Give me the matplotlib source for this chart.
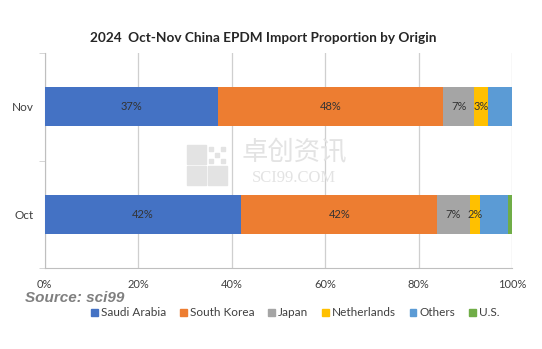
import matplotlib.pyplot as plt
from matplotlib.patches import Patch, Rectangle

# data
months = ["Nov", "Oct"]
origins = ["Saudi Arabia", "South Korea", "Japan", "Netherlands", "Others", "U.S."]
saudi = [37.2, 42.1]
korea = [48.1, 41.9]
japan = [6.6, 7.0]
netherlands = [3.0, 2.2]
others = [5.1, 5.9]
us = [0.0, 0.9]
colors = ["#4472C4", "#ED7D31", "#A5A5A5", "#FFC000", "#5B9BD5", "#70AD47"]
labelled = [True, True, True, True, False, False]

plt.rcParams['font.family'] = ['Lato', 'DejaVu Sans']

fig = plt.figure(figsize=(5.42, 3.49), dpi=100)
ax = fig.add_axes([44.5 / 542, 1 - 268 / 349, (512 - 44.5) / 542, (268 - 53) / 349])

ypos = [0, 1]
left = [0, 0]
for vals, c, lab in zip([saudi, korea, japan, netherlands, others, us], colors, labelled):
    ax.barh(ypos, vals, left=left, height=0.36, color=c, zorder=3)
    if lab:
        for y, v, l in zip(ypos, vals, left):
            if v >= 1.5:
                ax.text(l + v / 2, y, f"{round(v)}%", ha="center", va="center",
                        fontsize=8, color="#333333", zorder=4)
    left = [a + b for a, b in zip(left, vals)]

ax.set_xlim(0, 100)
ax.set_ylim(1.5, -0.5)
ax.set_xticks([0, 20, 40, 60, 80, 100])
ax.set_xticklabels(["0%", "20%", "40%", "60%", "80%", "100%"], fontsize=8, color="#404040")
ax.set_yticks(ypos)
ax.set_yticklabels(months, fontsize=8.5, color="#404040")
ax.tick_params(axis="y", length=0, pad=8)
ax.tick_params(axis="x", length=0, pad=8)
ax.xaxis.grid(True, color="#CFCFCF", linewidth=0.9, zorder=0)
ax.set_yticks([-0.5, 0.5, 1.5], minor=True)
ax.tick_params(axis="y", which="minor", length=4, color="#CFCFCF")
for s in ["top", "right"]:
    ax.spines[s].set_visible(False)
for s in ["left", "bottom"]:
    ax.spines[s].set_color("#BFBFBF")

fig.text(263 / 542, 1 - 38 / 349, "2024  Oct-Nov China EPDM Import Proportion by Origin",
         ha="center", va="center", fontsize=9.8, fontweight="bold", color="#262626")

# watermark (logo + text)
wm = "#E3E3E3"
for x0, y0 in [(187, 145), (187, 166), (208, 166)]:
    fig.patches.append(Rectangle((x0 / 542, 1 - (y0 + 19) / 349), 19 / 542, 19 / 349,
                                 transform=fig.transFigure, color=wm, zorder=5))
for i in range(3):
    for j in range(3):
        if (i + j) % 2 == 0:
            fig.patches.append(Rectangle(((209 + 6 * i) / 542, 1 - (151 + 6 * j) / 349),
                                         4 / 542, 4 / 349, transform=fig.transFigure,
                                         color=wm, zorder=5))
fig.text(294 / 542, 1 - 153 / 349, "卓创资讯", ha="center", va="center", fontsize=19,
         family=["Noto Sans CJK SC"], color=wm, zorder=5)
fig.text(294 / 542, 1 - 178 / 349, "SCI99.COM", ha="center", va="center", fontsize=12,
         family=["Liberation Serif"], color=wm, zorder=5)

handles = [Patch(color=c) for c in colors]
fig.legend(handles, origins, loc="center", bbox_to_anchor=(0.545, 1 - 313 / 349),
           ncol=6, frameon=False, fontsize=8.5, handlelength=0.55, handleheight=0.55,
           handletextpad=0.3, columnspacing=1.15, labelcolor="#404040")

fig.text(25 / 542, 1 - 298 / 349, "Source: sci99", ha="left", va="center", fontsize=11,
         fontweight="bold", fontstyle="italic", family=["Liberation Sans"], color="#7F7F7F")

fig.savefig("out.png", dpi=100)
